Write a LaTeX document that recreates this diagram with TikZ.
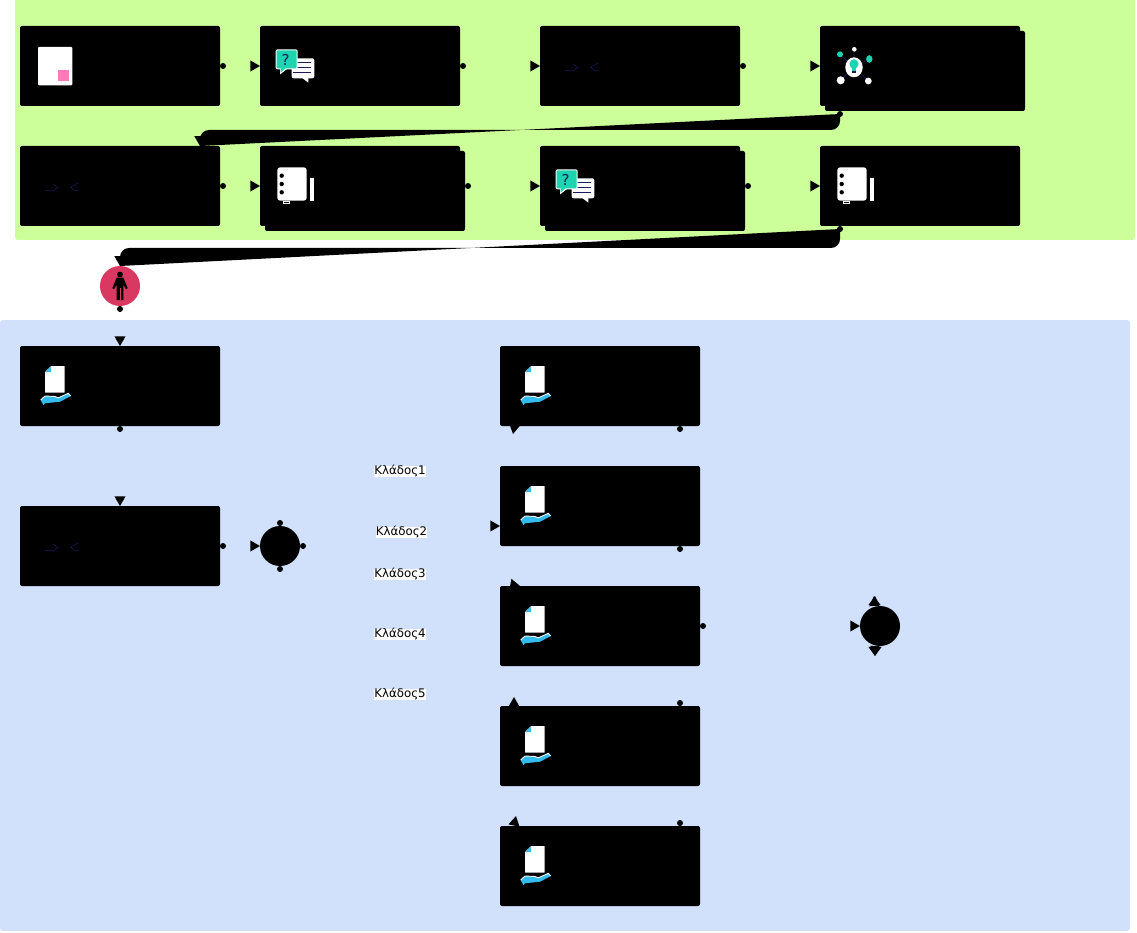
\documentclass[tikz,border=0pt]{standalone}
\usepackage{fontspec}
\setmainfont{DejaVu Sans}
\usetikzlibrary{shapes.geometric}
\definecolor{lanegreen}{HTML}{CCFF99}
\definecolor{laneblue}{HTML}{D1E0FB}
\definecolor{navy}{HTML}{1A1A5C}
\definecolor{teal}{HTML}{1DD3B0}
\definecolor{sky}{HTML}{33BBEE}
\definecolor{rose}{HTML}{FF7AB8}
\definecolor{crimson}{HTML}{D93861}
\tikzset{
  boxn/.style={rectangle,rounded corners=2,fill=black,minimum width=200,minimum height=80,inner sep=0pt,outer sep=0pt,anchor=north west},
  gaten/.style={circle,fill=black,minimum size=40,inner sep=0pt,outer sep=0pt},
  dotm/.style={circle,sharp corners,fill=black,minimum size=6,inner sep=0pt},
  tipm/.style={regular polygon,regular polygon sides=3,sharp corners,minimum size=13,inner sep=0pt,outer sep=0pt,fill=black,anchor=corner 1},
  wedge/.style={fill=black,rounded corners=9},
  branchl/.style={fill=white,inner sep=0pt,font=\fontsize{11.8}{14}\selectfont},
  pageicon/.pic={
    \fill[white,rounded corners=1] (18,21) rectangle (52.3,59.3);
    \fill[rose] (37.5,44) rectangle (49,55.5);
  },
  chaticon/.pic={
    \fill[white,rounded corners=2] (31.7,32.3) rectangle (54.3,52.3);
    \fill[white] (42.3,52) -- (48.3,56.7) -- (48.3,52) -- cycle;
    \draw[navy,line width=1pt] (36,36.7) -- (51,36.7) (35,42) -- (51,42) (33,47) -- (51,47);
    \fill[white,rounded corners=2] (15.7,23.3) rectangle (37.7,43.3);
    \fill[white] (20,43) -- (20,48.5) -- (27,43) -- cycle;
    \fill[teal,rounded corners=1] (16.7,24.3) rectangle (36.7,42.3);
    \fill[teal] (20.7,42) -- (20.7,46.5) -- (26,42) -- cycle;
    \node[font=\fontsize{15}{16}\selectfont,text=navy,inner sep=0pt] (qmark) at (25.5,33.5) {?};
  },
  bookicon/.pic={
    \fill[white,rounded corners=3] (17.3,21.3) rectangle (46.7,54.7);
    \fill[black] (21.7,29.7) circle (2.2) (21.7,38) circle (2.2) (21.7,46.3) circle (2.2);
    \fill[white] (50,32.3) rectangle (54,54.7);
    \draw[white,line width=.6pt,fill=black] (23.3,55.5) rectangle (29,57.5);
  },
  bulbicon/.pic={
    \draw[navy,line width=.7pt] (20,28.3) -- (34,41.3) (34,23.3) -- (34,41.3) (49.3,33) -- (34,41.3) (20.7,54.3) -- (34,41.3) (48.3,55) -- (34,41.3);
    \fill[white] (34,41.3) ellipse (8.7 and 10);
    \fill[teal] (34,38) ellipse (4.5 and 4.8);
    \fill[teal] (31.7,41) rectangle (36.3,45);
    \fill[navy] (31.7,45) rectangle (36.3,47.5);
    \fill[teal] (20,28.3) circle (3);
    \fill[white] (34.3,23.3) circle (2.3);
    \fill[teal] (49.3,33) ellipse (3.2 and 3.8);
    \fill[white] (20.7,54.3) circle (4);
    \fill[white] (48.3,55) circle (3.4);
  },
  markicon/.pic={
    \draw[navy,line width=.6pt] (25,44.7) -- (34,44.7) -- (38,42) -- (33.5,38);
    \draw[navy,line width=.6pt] (58.3,36.7) -- (50.7,41.3) -- (54,44) -- (58.3,44.7);
  },
  handicon/.pic={
    \fill[white,rounded corners=.5] (25,26) -- (31,20) -- (44.7,20) -- (44.7,46.7) -- (25,46.7) -- cycle;
    \fill[sky] (25.5,26) -- (31,26) -- (31,20.5) -- cycle;
    \fill[sky] (20.7,54) -- (25,50) -- (35,50.5) -- (38.3,51.8) -- (48.3,47.3) -- (50.7,50) -- (40,55.7) -- (25,57.3) -- (23.3,59) -- cycle;
    \draw[white,line width=.9pt] (20.7,54) -- (25,50) -- (35,50.5) -- (38.3,51.8) -- (48.3,47.3) -- (50.7,50);
  },
  personicon/.pic={
    \fill[black] (0,-11.5) circle (2.9);
    \fill[black] (-3.3,-8.5) -- (3.3,-8.5) -- (7.7,2.3) -- (5.8,3) -- (3.3,-1.5) -- (3.3,14) -- (-3.3,14) -- (-3.3,-1.5) -- (-5.8,3) -- (-7.7,2.3) -- cycle;
    \fill[crimson] (-.5,2) rectangle (.5,14);
  }
}
\begin{document}
\begin{tikzpicture}[x=1pt,y=-1pt,line width=.5pt]
\path[use as bounding box] (0,0) rectangle (1137,933);
\fill[lanegreen,rounded corners=3] (15,-6) rectangle (1135,240);
\fill[laneblue,rounded corners=3] (0,320) rectangle (1130,931);
% first lane
\node[boxn] (s1) at (20,26) {};
\node[boxn] (s2) at (260,26) {};
\node[boxn] (s3) at (540,26) {};
\node[boxn] (s4b) at (825,31) {};
\node[boxn] (s4) at (820,26) {};
\node[boxn] (s5) at (20,146) {};
\node[boxn] (s6b) at (265,151) {};
\node[boxn] (s6) at (260,146) {};
\node[boxn] (s7b) at (545,151) {};
\node[boxn] (s7) at (540,146) {};
\node[boxn] (s8) at (820,146) {};
\node[circle,fill=crimson,minimum size=40,inner sep=0pt,outer sep=0pt] (p) at (120,286) {};
% second lane
\node[boxn] (a1) at (20,346) {};
\node[boxn] (a2) at (20,506) {};
\node[gaten] (g1) at (280,546) {};
\node[boxn] (b1) at (500,346) {};
\node[boxn] (b2) at (500,466) {};
\node[boxn] (b3) at (500,586) {};
\node[boxn] (b4) at (500,706) {};
\node[boxn] (b5) at (500,826) {};
\node[gaten] (g2) at (880,626) {};
% connectors
\path ([shift={(3,0)}]s1.east) node[dotm]{} -- (s2.west) node[tipm,rotate=-90]{};
\path ([shift={(3,0)}]s2.east) node[dotm]{} -- (s3.west) node[tipm,rotate=-90]{};
\path ([shift={(3,0)}]s3.east) node[dotm]{} -- (s4.west) node[tipm,rotate=-90]{};
\fill[wedge] ([shift={(15,3)}]s4b.south west) node[dotm]{} -- ++(0,16) -| ([shift={(180,0)}]s5.north west) node[tipm,rotate=180]{};
\path ([shift={(3,0)}]s5.east) node[dotm]{} -- (s6.west) node[tipm,rotate=-90]{};
\path ([shift={(3,-5)}]s6b.east) node[dotm]{} -- (s7.west) node[tipm,rotate=-90]{};
\path ([shift={(3,-5)}]s7b.east) node[dotm]{} -- (s8.west) node[tipm,rotate=-90]{};
\fill[wedge] ([shift={(20,3)}]s8.south west) node[dotm]{} -- ++(0,19) -| (p.north) node[tipm,rotate=180]{};
\path ([shift={(0,3)}]p.south) node[dotm]{} -- (a1.north) node[tipm,rotate=180]{};
\path ([shift={(0,3)}]a1.south) node[dotm]{} -- (a2.north) node[tipm,rotate=180]{};
\path ([shift={(3,0)}]a2.east) node[dotm]{} -- (g1.west) node[tipm,rotate=-90]{};
\path ([shift={(0,-3)}]g1.north) node[dotm]{} -- ([shift={(13,8)}]b1.south west) node[tipm,rotate=170]{};
\path ([shift={(3,0)}]g1.east) node[dotm]{} -- ([shift={(0,20)}]b2.west) node[tipm,rotate=-90]{};
\path ([shift={(3,0)}]g1.east) -- ([shift={(20,0)}]b3.north west) node[tipm,rotate=-100]{};
\path ([shift={(0,3)}]g1.south) node[dotm]{} -- ([shift={(14,-9)}]b4.north west) node[tipm,rotate=0]{};
\path ([shift={(0,3)}]g1.south) -- ([shift={(16,-10)}]b5.north west) node[tipm,rotate=-12]{};
\path ([shift={(-20,3)}]b1.south east) node[dotm]{} -- ([shift={(-6,-10)}]g2.north) node[tipm,rotate=6]{};
\path ([shift={(-20,3)}]b2.south east) node[dotm]{} -- ([shift={(-5,-10)}]g2.north) node[tipm,rotate=-6]{};
\path ([shift={(3,0)}]b3.east) node[dotm]{} -- (g2.west) node[tipm,rotate=-90]{};
\path ([shift={(-20,-3)}]b4.north east) node[dotm]{} -- ([shift={(-5,10)}]g2.south) node[tipm,rotate=174]{};
\path ([shift={(-20,-3)}]b5.north east) node[dotm]{} -- ([shift={(-5,10)}]g2.south) node[tipm,rotate=186]{};
% branch labels
\node[branchl] (l1) at (400,471.5) {Κλάδος1};
\node[branchl] (l2) at (401.5,532.5) {Κλάδος2};
\node[branchl] (l3) at (400,574.5) {Κλάδος3};
\node[branchl] (l4) at (400,634.5) {Κλάδος4};
\node[branchl] (l5) at (400,694.5) {Κλάδος5};
% icons
\pic at (s1.north west) {pageicon};
\pic at (s2.north west) {chaticon};
\pic at (s3.north west) {markicon};
\pic at (s4.north west) {bulbicon};
\pic at (s5.north west) {markicon};
\pic at (s6.north west) {bookicon};
\pic at (s7.north west) {chaticon};
\pic at (s8.north west) {bookicon};
\pic at (p.center) {personicon};
\pic at (a1.north west) {handicon};
\pic at (a2.north west) {markicon};
\pic at (b1.north west) {handicon};
\pic at (b2.north west) {handicon};
\pic at (b3.north west) {handicon};
\pic at (b4.north west) {handicon};
\pic at (b5.north west) {handicon};
\end{tikzpicture}
\end{document}
